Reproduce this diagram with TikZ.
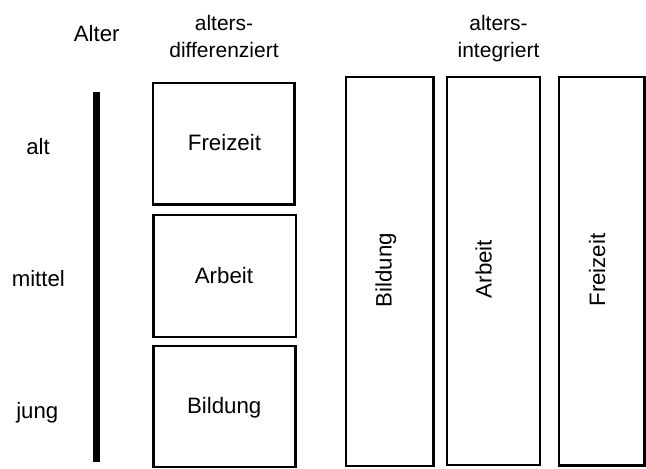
\documentclass[tikz,border=0pt]{standalone}
\usepackage{fontspec}
\setmainfont{Liberation Sans}
\begin{document}
\begin{tikzpicture}[x=1pt,y=-1pt,
  box/.style={draw, line width=2.3pt, inner sep=0pt},
  boxtext/.style={font=\fontsize{22.3}{26}\selectfont, anchor=base, inner sep=0pt},
  lbl/.style={font=\fontsize{22.2}{26}\selectfont, anchor=base, inner sep=0pt},
  head/.style={font=\fontsize{21}{27}\selectfont, align=center, anchor=north, inner sep=0pt},
  agebar/.style={line width=6.7pt}]
\useasboundingbox (0,0) rectangle (646,469);

% headers
\node[head] (hdiff) at (224,15) {alters-\\differenziert};
\node[head] (hint) at (498.5,15) {alters-\\integriert};
\node[lbl] (alter) at (96.7,41) {Alter};

% age axis
\coordinate (bartop) at (96.7,92.3);
\coordinate (barbot) at (96.7,462.3);
\draw[agebar] (bartop) -- (barbot);
\node[lbl] (alt) at (38,154) {alt};
\node[lbl] (mittel) at (38.3,286.2) {mittel};
\node[lbl] (jung) at (37.3,418) {jung};

% age-differentiated boxes
\node[box, minimum width=141.7pt, minimum height=121.7pt] (lf) at (223.65,143.65) {};
\node[box, minimum width=142.3pt, minimum height=121.7pt] (la) at (224.65,276.15) {};
\node[box, minimum width=142pt, minimum height=121pt] (lb) at (224.5,406.7) {};
\node[boxtext] (lft) at (224.5,150) {Freizeit};
\node[boxtext] (lat) at (224,283.3) {Arbeit};
\node[boxtext] (lbt) at (224.2,413.3) {Bildung};

% age-integrated boxes
\node[box, minimum width=87.3pt, minimum height=389pt] (rb) at (389.85,271.7) {};
\node[box, minimum width=92.6pt, minimum height=387.6pt] (ra) at (493.5,271) {};
\node[box, minimum width=85.3pt, minimum height=388.3pt] (rf) at (601.85,271.35) {};
\node[boxtext, rotate=90] (rbt) at (391.7,270) {Bildung};
\node[boxtext, rotate=90] (rat) at (491.7,269) {Arbeit};
\node[boxtext, rotate=90] (rft) at (605,270) {Freizeit};
\end{tikzpicture}
\end{document}
